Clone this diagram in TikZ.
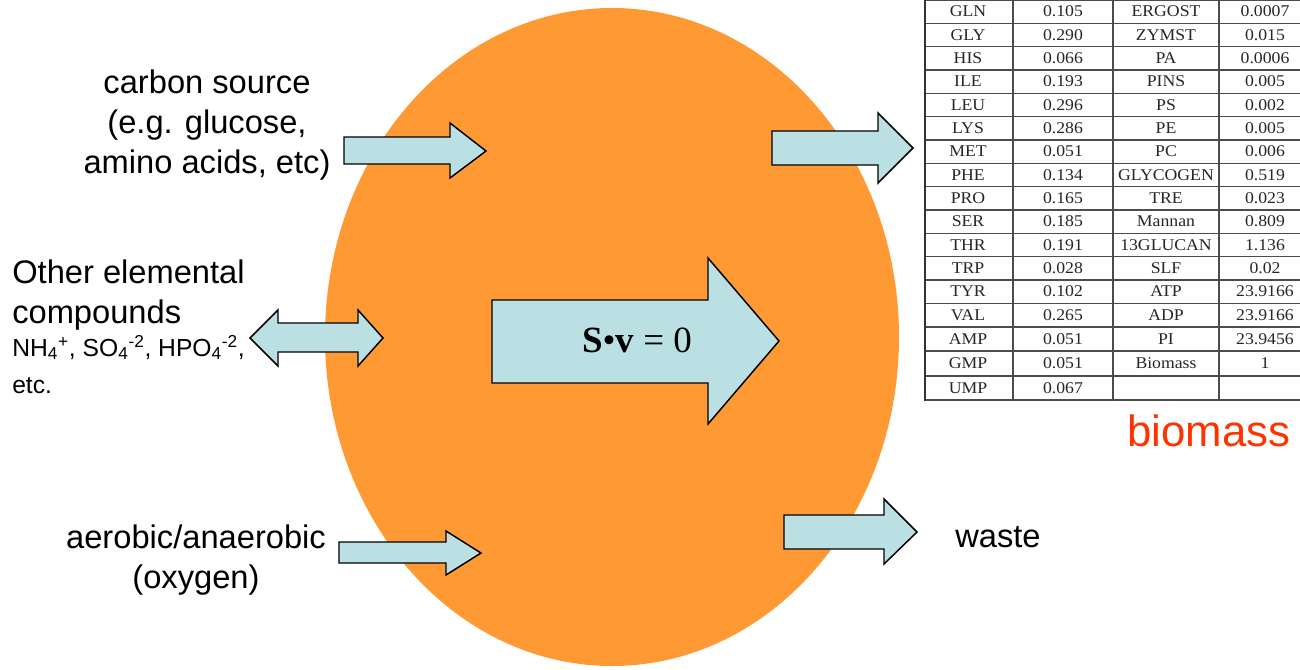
\documentclass[tikz,border=0pt]{standalone}
\usepackage{fontspec}
\setmainfont{Liberation Sans}
\newfontfamily\tabfont{Liberation Serif}
\newfontfamily\tabwidefont[FakeStretch=1.08]{Liberation Serif}
\definecolor{cellorange}{RGB}{255,153,51}
\definecolor{arrowblue}{RGB}{187,224,227}
\definecolor{biored}{RGB}{255,51,0}
\tikzset{
 blockarrow/.style={draw=black, fill=arrowblue, line width=1.1pt, line join=miter},
 bigtext/.style={font=\fontsize{24.5}{30}\selectfont, inner sep=0pt},
 smalltext/.style={font=\fontsize{18.5}{24}\selectfont, inner sep=0pt},
 tabwide/.style={font=\tabwidefont\fontsize{12.3}{14}\selectfont, text=black!85, inner sep=0pt, anchor=base},
 gridline/.style={draw=black!70, line width=0.8pt},
}
% tail x, shaft top, shaft bottom, head base x, head top, head bottom, tip x, tip y
\newcommand\myarrow[8]{\draw[blockarrow] (#1,#2) -- (#4,#2) -- (#4,#5) -- (#7,#8) -- (#4,#6) -- (#4,#3) -- (#1,#3) -- cycle;}
\begin{document}
\begin{tikzpicture}[x=0.75pt,y=-0.75pt]
\useasboundingbox (0,0) rectangle (1300,669);
\clip (0,0) rectangle (1300,669);
% cell
\fill[cellorange] (612,337) ellipse [x radius=215.25pt, y radius=246.75pt];
% arrows
\myarrow{344}{137}{164}{450}{123}{178}{486}{151}
\myarrow{772}{131}{165}{878}{113}{183}{913}{148}
\myarrow{492}{300}{383}{708}{258}{424}{779}{341}
\myarrow{784}{515}{549}{884}{499}{564}{917}{532}
\myarrow{339}{542}{563}{446}{531}{575}{481}{553}
\draw[blockarrow] (250,338) -- (278,310) -- (278,323) -- (358,323) -- (358,310) -- (383,338)
  -- (358,366) -- (358,352) -- (278,352) -- (278,366) -- cycle;
% texts
\node[bigtext, anchor=base] (carbon1) at (207,93) {carbon source};
\node[bigtext, anchor=base] (carbon2) at (207,133) {(e.g. glucose,};
\node[bigtext, anchor=base] (carbon3) at (207,173) {amino acids, etc)};
\node[bigtext, anchor=base west] (other1) at (12,283) {Other elemental};
\node[bigtext, anchor=base west] (other2) at (12,323) {compounds};
\node[smalltext, anchor=base west] (other3) at (12,356) {NH\textsubscript{4}\textsuperscript{+}, SO\textsubscript{4}\textsuperscript{-2}, HPO\textsubscript{4}\textsuperscript{-2},};
\node[smalltext, anchor=base west] (other4) at (12,393) {etc.};
\node[bigtext, anchor=base] (aer1) at (196,548) {aerobic/anaerobic};
\node[bigtext, anchor=base] (aer2) at (196,588) {(oxygen)};
\node[bigtext, anchor=base west] (waste) at (955,547) {waste};
\node[font=\fontsize{32.85}{40}\selectfont, text=biored, inner sep=0pt, anchor=base west] (biomass) at (1127,446) {biomass};
\node[font=\tabfont\fontsize{27.75}{32}\selectfont, inner sep=0pt, anchor=base] (eq) at (637,352) {\textbf{S}•\textbf{v} = 0};
% table grid
\foreach \yy in {0,23.33,46.67,70,93.33,116.67,140,163.33,186.67,210,233.33,256.67,280,303.5,327,351,376,400}
  \draw[gridline] (924,\yy) -- (1312,\yy);
\foreach \xx in {1013,1113,1219}
  \draw[gridline] (\xx,-2) -- (\xx,400);
\draw[black!80, line width=2pt] (925,-2) -- (925,401);
% table text
\foreach \a/\b/\c/\d/\yc [count=\n] in {
  GLN/0.105/ERGOST/0.0007/11.7,
  GLY/0.290/ZYMST/0.015/35,
  HIS/0.066/PA/0.0006/58.3,
  ILE/0.193/PINS/0.005/81.7,
  LEU/0.296/PS/0.002/105,
  LYS/0.286/PE/0.005/128.3,
  MET/0.051/PC/0.006/151.7,
  PHE/0.134/GLYCOGEN/0.519/175,
  PRO/0.165/TRE/0.023/198.3,
  SER/0.185/Mannan/0.809/221.7,
  THR/0.191/13GLUCAN/1.136/245,
  TRP/0.028/SLF/0.02/268.3,
  TYR/0.102/ATP/23.9166/291.7,
  VAL/0.265/ADP/23.9166/315.2,
  AMP/0.051/PI/23.9456/339,
  GMP/0.051/Biomass/1/363.5,
  UMP/0.067/{}/{}/388}
{
  \node[tabwide] (ta\n) at (968,\yc+5) {\a};
  \node[tabwide] (tb\n) at (1063,\yc+5) {\b};
  \node[tabwide] (tc\n) at (1166,\yc+5) {\c};
  \node[tabwide] (td\n) at (1265,\yc+5) {\d};
}
\end{tikzpicture}
\end{document}
